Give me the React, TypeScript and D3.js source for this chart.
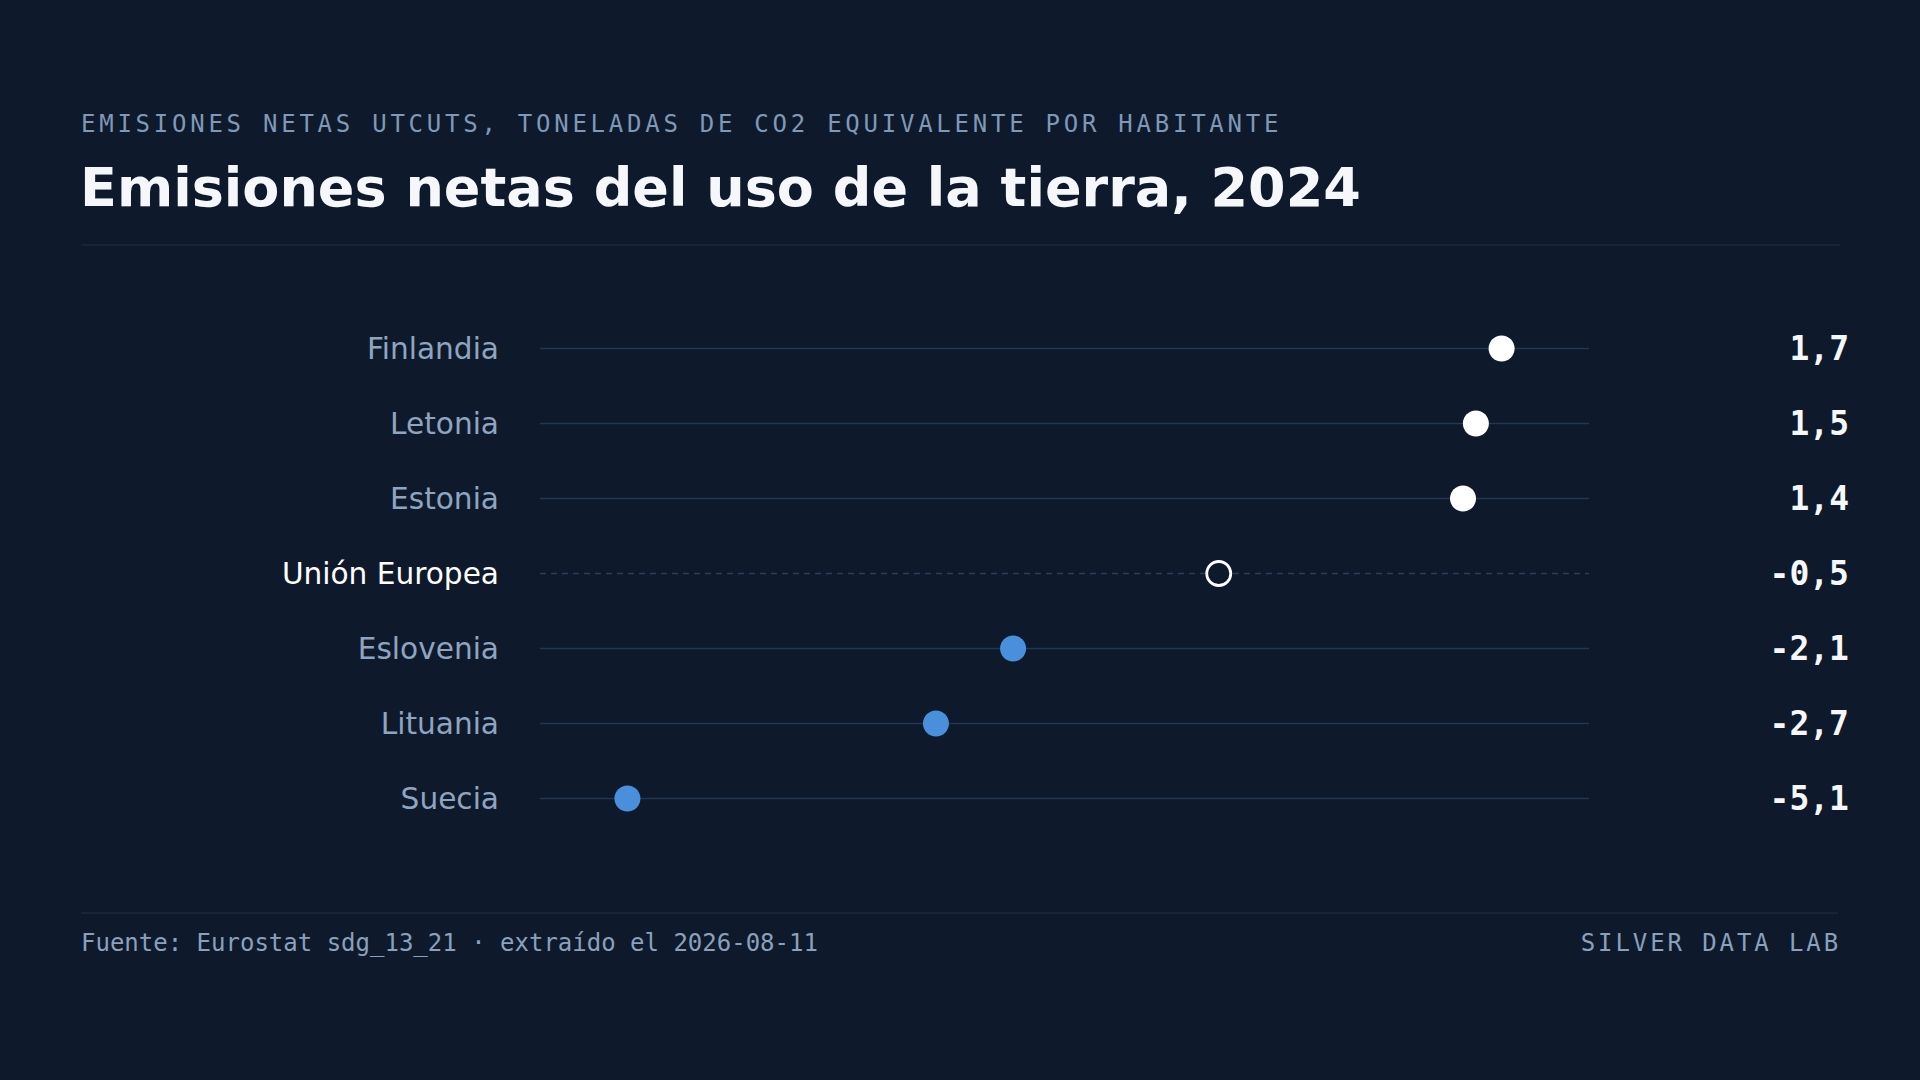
import React, { useEffect, useRef } from 'react'
import * as d3 from 'd3'

const countries = ['Finlandia', 'Letonia', 'Estonia', 'Unión Europea', 'Eslovenia', 'Lituania', 'Suecia']
const values = [1.7, 1.5, 1.4, -0.5, -2.1, -2.7, -5.1]
const highlight = 'Unión Europea'

const subtitle = 'EMISIONES NETAS UTCUTS, TONELADAS DE CO2 EQUIVALENTE POR HABITANTE'
const title = 'Emisiones netas del uso de la tierra, 2024'
const source = 'Fuente: Eurostat sdg_13_21 · extraído el 2026-08-11'
const brand = 'SILVER DATA LAB'

const W = 1920
const H = 1080
const BG = '#0e1a2b'
const MONO = '"DejaVu Sans Mono", monospace'
const SANS = '"DejaVu Sans", sans-serif'

export default function App() {
  const svgRef = useRef<SVGSVGElement>(null)

  useEffect(() => {
    if (!svgRef.current) return
    const svg = d3.select(svgRef.current)
    svg.selectAll('*').remove()

    svg.append('rect').attr('width', W).attr('height', H).attr('fill', BG)

    // header
    svg.append('text')
      .attr('x', 81).attr('y', 132)
      .style('font-family', MONO).style('font-size', '24px')
      .style('letter-spacing', '3.75px')
      .attr('fill', '#7f98b8')
      .text(subtitle)

    svg.append('text')
      .attr('x', 80).attr('y', 206)
      .style('font-family', SANS).style('font-size', '54px').style('font-weight', '700')
      .attr('fill', '#f5f7fa')
      .text(title)

    svg.append('line')
      .attr('x1', 81).attr('x2', 1840).attr('y1', 245).attr('y2', 245)
      .attr('stroke', '#1a2a3e').attr('stroke-width', 1.5)

    // scales
    const data = countries.map((c, i) => ({ name: c, value: values[i] }))
    const ext = d3.extent(values) as [number, number]
    const pad = (ext[1] - ext[0]) * 0.1
    const x = d3.scaleLinear().domain([ext[0] - pad, ext[1] + pad]).range([540, 1589])
    const y = d3.scaleBand<string>().domain(countries).range([311, 836])
    const cy = (name: string) => (y(name) ?? 0) + y.bandwidth() / 2

    const rows = svg.append('g')
      .selectAll('g')
      .data(data)
      .join('g')
      .attr('transform', (d) => `translate(0,${cy(d.name)})`)

    rows.append('line')
      .attr('x1', x.range()[0]).attr('x2', x.range()[1])
      .attr('stroke', (d) => (d.name === highlight ? '#2a3e5a' : '#213752'))
      .attr('stroke-width', 1.5)
      .attr('stroke-dasharray', (d) => (d.name === highlight ? '6 5' : null))

    rows.append('text')
      .attr('x', 499).attr('dy', '0.35em')
      .attr('text-anchor', 'end')
      .style('font-family', SANS).style('font-size', '29.6px')
      .attr('fill', (d) => (d.name === highlight ? '#ffffff' : '#8fa4c0'))
      .text((d) => d.name)

    rows.append('circle')
      .attr('cx', (d) => x(d.value))
      .attr('r', (d) => (d.name === highlight ? 12 : 13))
      .attr('fill', (d) => (d.name === highlight ? BG : d.value >= 0 ? '#ffffff' : '#4a8fdb'))
      .attr('stroke', (d) => (d.name === highlight ? '#ffffff' : 'none'))
      .attr('stroke-width', 2.8)

    rows.append('text')
      .attr('x', 1849).attr('dy', '0.35em')
      .attr('text-anchor', 'end')
      .style('font-family', MONO).style('font-size', '33px').style('font-weight', '700')
      .attr('fill', '#f5f7fa')
      .text((d) => d.value.toFixed(1).replace('.', ','))

    // footer
    svg.append('line')
      .attr('x1', 81).attr('x2', 1838).attr('y1', 913).attr('y2', 913)
      .attr('stroke', '#1a2a3e').attr('stroke-width', 1.5)

    svg.append('text')
      .attr('x', 81).attr('y', 951)
      .style('font-family', MONO).style('font-size', '24px')
      .attr('fill', '#8aa0bd')
      .text(source)

    svg.append('text')
      .attr('x', 1841).attr('y', 951)
      .attr('text-anchor', 'end')
      .style('font-family', MONO).style('font-size', '24px')
      .style('letter-spacing', '2.9px')
      .attr('fill', '#8aa0bd')
      .text(brand)
  }, [])

  return (
    <svg
      ref={svgRef}
      width={W}
      height={H}
      style={{ position: 'fixed', top: 0, left: 0, display: 'block' }}
    />
  )
}
